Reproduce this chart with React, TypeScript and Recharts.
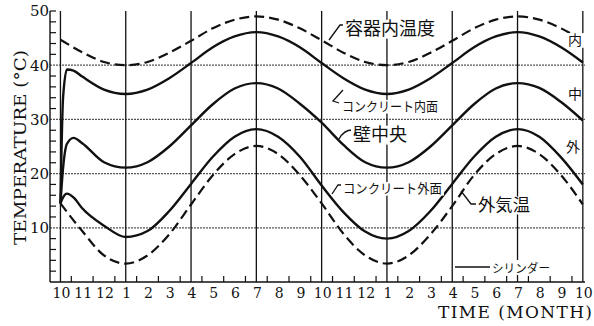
import React from "react";
import { LineChart, Line, XAxis, YAxis, ReferenceLine } from "recharts";

// month positions (0 = October of the first year); extra points near 0 for the start-up transient
const months = [0, 0.12, 0.3, 0.6, 1, 2, 3, 4, 5, 6, 7, 8, 9, 10, 11, 12, 13, 14, 15, 16, 17, 18, 19, 20, 21, 22, 23, 24];

// 容器内温度 (dashed)
const vesselTemp = [44.7, null, null, null, 42.4, 40.6, 40.0, 40.6, 42.3, 44.5, 46.8, 48.4, 49.0, 48.4, 46.8, 44.6, 42.3, 40.6, 40.0, 40.6, 42.3, 44.5, 46.8, 48.4, 49.0, 48.4, 46.8, 44.5];
// コンクリート内面
const innerSurface = [14.5, 34.0, 39.2, 39.0, 37.9, 35.5, 34.7, 35.5, 37.6, 40.4, 43.3, 45.3, 46.1, 45.3, 43.3, 40.4, 37.6, 35.5, 34.7, 35.5, 37.6, 40.4, 43.3, 45.3, 46.1, 45.3, 43.3, 40.5];
// 壁中央
const wallCenter = [14.5, 21.0, 25.5, 26.6, 25.6, 22.1, 21.1, 22.1, 25.0, 28.9, 32.8, 35.7, 36.7, 35.7, 32.9, 29.4, 25.3, 22.1, 21.1, 22.1, 25.0, 28.9, 32.8, 35.7, 36.7, 35.8, 33.2, 29.8];
// コンクリート外面
const outerSurface = [14.5, 15.6, 16.3, 15.6, 13.6, 10.4, 8.3, 9.4, 13.1, 18.1, 23.1, 26.8, 28.2, 26.8, 23.1, 17.8, 12.9, 9.3, 8.0, 9.4, 13.1, 18.1, 23.1, 26.8, 28.2, 26.8, 23.0, 18.0];
// 外気温 (dashed)
const outsideAir = [14.5, null, null, null, 9.4, 4.9, 3.4, 4.9, 8.8, 14.3, 19.7, 23.6, 25.1, 23.6, 19.7, 14.5, 8.9, 4.9, 3.4, 4.9, 8.8, 14.0, 19.7, 23.6, 25.1, 23.6, 19.7, 14.3];

const monthLabels = ["10", "11", "12", "1", "2", "3", "4", "5", "6", "7", "8", "9", "10", "11", "12", "1", "2", "3", "4", "5", "6", "7", "8", "9", "10"];
const yLabels = [10, 20, 30, 40, 50];
const yMinor = [2, 4, 6, 8, 12, 14, 16, 18, 22, 24, 26, 28, 32, 34, 36, 38, 42, 44, 46, 48, 50];
const gridMonths = [0, 3, 6, 9, 12, 15, 18, 21, 24];
const gridTemps = [10, 20, 30, 40];

const rows = months.map((m, i) => ({
  m,
  vessel: vesselTemp[i],
  inner: innerSurface[i],
  wall: wallCenter[i],
  outer: outerSurface[i],
  air: outsideAir[i],
}));

const xTicks = monthLabels.map((_, i) => i);
const halfMonths = monthLabels.slice(1).map((_, i) => i + 0.5);

// chart geometry (same numbers go into the LineChart props below)
const W = 594;
const H = 326;
const M_TOP = 11;
const M_RIGHT = 9;
const Y_AXIS_W = 50;
const X_AXIS_H = 44;
const X_MIN = -0.48;
const X_MAX = 24.1;
const Y_MAX = 50;
const plotL = Y_AXIS_W;
const plotR = W - M_RIGHT;
const plotT = M_TOP;
const plotB = H - X_AXIS_H;
const sx = (m: number) => plotL + ((m - X_MIN) / (X_MAX - X_MIN)) * (plotR - plotL);
const sy = (t: number) => plotB - (t / Y_MAX) * (plotB - plotT);

const SERIF = "'DejaVu Serif', serif";
const JP = "'Noto Sans CJK JP', sans-serif";
const INK = "#111";

function YTick(props: any) {
  const { x, y, payload } = props;
  return (
    <text x={x - 1} y={y} dy="0.36em" textAnchor="end" fontFamily={SERIF} fontSize={15} fill={INK}>
      {payload.value}
    </text>
  );
}

function XTick(props: any) {
  const { x, y, payload } = props;
  return (
    <text x={x + 1} y={y + 16} textAnchor="middle" fontFamily={SERIF} fontSize={14} fill={INK}>
      {monthLabels[payload.value]}
    </text>
  );
}

function Label({ x, y, w, size, text, bg }: { x: number; y: number; w: number; size: number; text: string; bg?: boolean }) {
  return (
    <g>
      {bg !== false && <rect x={x - 2} y={y - size * 0.85} width={w + 4} height={size * 1.05} fill="#fff" />}
      <text x={x} y={y} fontFamily={JP} fontSize={size} fill={INK} textLength={w} lengthAdjust="spacingAndGlyphs">
        {text}
      </text>
    </g>
  );
}

export default function App() {
  return (
    <div style={{ position: "absolute", left: 0, top: 0, width: W, height: H, background: "#fff" }}>
      <LineChart width={W} height={H} data={rows} margin={{ top: M_TOP, right: M_RIGHT, bottom: 0, left: 0 }}>
        <XAxis
          dataKey="m"
          type="number"
          domain={[X_MIN, X_MAX]}
          allowDataOverflow
          ticks={xTicks}
          interval={0}
          tick={XTick}
          tickLine={false}
          tickSize={0}
          tickMargin={0}
          height={X_AXIS_H}
          axisLine={{ stroke: INK, strokeWidth: 1.4 }}
        />
        <YAxis
          type="number"
          domain={[0, Y_MAX]}
          ticks={yLabels}
          interval={0}
          tick={YTick}
          tickLine={false}
          tickSize={0}
          tickMargin={0}
          width={Y_AXIS_W}
          axisLine={{ stroke: INK, strokeWidth: 1.4 }}
        />
        {gridTemps.map((t) => (
          <ReferenceLine key={"h" + t} y={t} stroke="#555" strokeWidth={1.2} strokeDasharray="2 1" />
        ))}
        {gridMonths.map((m) => (
          <ReferenceLine key={"v" + m} x={m} stroke={INK} strokeWidth={1.3} />
        ))}
        <Line dataKey="vessel" type="monotone" stroke={INK} strokeWidth={2.2} strokeDasharray="10 5" dot={false} connectNulls isAnimationActive={false} />
        <Line dataKey="inner" type="monotone" stroke={INK} strokeWidth={2.4} dot={false} isAnimationActive={false} />
        <Line dataKey="wall" type="monotone" stroke={INK} strokeWidth={2.4} dot={false} isAnimationActive={false} />
        <Line dataKey="outer" type="monotone" stroke={INK} strokeWidth={2.4} dot={false} isAnimationActive={false} />
        <Line dataKey="air" type="monotone" stroke={INK} strokeWidth={2.2} strokeDasharray="10 5" dot={false} connectNulls isAnimationActive={false} />
      </LineChart>
      <svg width={W} height={H} style={{ position: "absolute", left: 0, top: 0, pointerEvents: "none" }}>
        {/* minor ticks: half months on the time axis, every 2 degrees on the temperature axis */}
        <g stroke={INK} strokeWidth={1.2}>
          {halfMonths.map((m) => (
            <line key={"hm" + m} x1={sx(m)} x2={sx(m)} y1={plotB} y2={plotB - 6} />
          ))}
          {yMinor.map((t) => (
            <line key={"ym" + t} x1={plotL} x2={plotL + 6} y1={sy(t)} y2={sy(t)} />
          ))}
        </g>

        <text
          transform="translate(25.5,147.5) rotate(-90)"
          textAnchor="middle"
          fontFamily={SERIF}
          fontSize={17}
          fill={INK}
          textLength={195}
          lengthAdjust="spacingAndGlyphs"
        >
          TEMPERATURE (°C)
        </text>
        <text x={438} y={318} fontFamily={SERIF} fontSize={17} fill={INK} textLength={154} lengthAdjust="spacing">
          TIME (MONTH)
        </text>

        <g fill="none" stroke={INK} strokeWidth={1.3}>
          <path d="M345,25 L340,25 L329,40" />
          <path d="M343,90 L333,101 L339,103" />
          <path d="M352,130 Q344,130 339,139" />
          <path d="M343,185 L338,185 L332,194" />
          <path d="M477,204 L471,204 L461,191" />
        </g>
        <Label x={345} y={35} w={90} size={18} text="容器内温度" />
        <Label x={342} y={111} w={96} size={13} text="コンクリート内面" />
        <Label x={353} y={141} w={54} size={18} text="壁中央" />
        <Label x={343} y={193} w={99} size={13} text="コンクリート外面" />
        <Label x={478} y={211} w={52} size={17} text="外気温" />
        <Label x={568} y={45} w={14} size={14} text="内" />
        <Label x={568} y={99} w={14} size={14} text="中" bg={false} />
        <Label x={566} y={152} w={14} size={14} text="外" bg={false} />
        <rect x={453} y={260} width={99} height={15} fill="#fff" />
        <line x1={455} x2={490} y1={267} y2={267} stroke={INK} strokeWidth={1.5} />
        <Label x={492} y={272.5} w={58} size={12} text="シリンダー" bg={false} />
      </svg>
    </div>
  );
}
